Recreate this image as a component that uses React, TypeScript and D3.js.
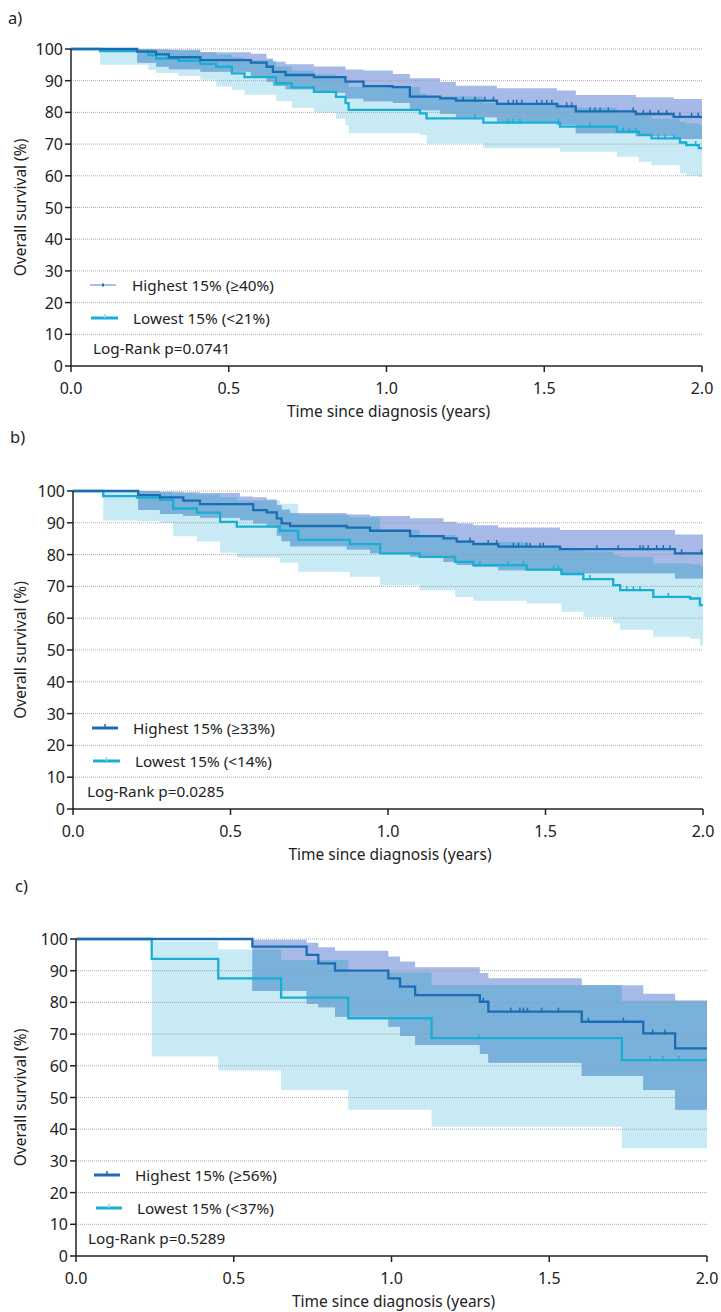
import React from 'react'
import * as d3 from 'd3'

// ---- panel a) ----
const aHighTime = [0, 0.21, 0.27, 0.31, 0.41, 0.57, 0.62, 0.64, 0.68, 0.77, 0.87, 0.927, 1.02, 1.074, 1.17, 1.22, 1.35, 1.54, 1.6, 1.79, 1.91]
const aHighSurv = [100, 99.2, 98.3, 97.4, 96.5, 95.7, 94.4, 92.8, 91.8, 91.1, 89.7, 88.3, 88.0, 85.0, 84.4, 83.7, 82.7, 81.9, 80.3, 79.5, 78.6]
const aHighUpper = [100, 100, 99.9, 99.8, 99.0, 98.5, 97.0, 96.0, 95.2, 94.5, 93.5, 93.2, 92.1, 90.8, 89.6, 88.4, 87.6, 86.9, 85.5, 84.8, 84.2]
const aHighLower = [100, 95.7, 94.4, 93.6, 92.8, 91.5, 89.7, 88.3, 87.3, 86.2, 84.4, 83.5, 83.0, 80.7, 79.5, 78.5, 76.8, 76.0, 73.4, 72.5, 71.6]
const aHighCensor = [1.243, 1.281, 1.312, 1.339, 1.386, 1.402, 1.413, 1.429, 1.476, 1.492, 1.508, 1.524, 1.571, 1.587, 1.645, 1.661, 1.677, 1.703, 1.782, 1.814, 1.835, 1.862, 1.888, 1.93, 1.967, 1.988]

const aLowTime = [0, 0.092, 0.245, 0.27, 0.34, 0.41, 0.46, 0.51, 0.55, 0.65, 0.7, 0.77, 0.84, 0.87, 0.88, 1.106, 1.127, 1.307, 1.55, 1.73, 1.8, 1.84, 1.93, 1.95, 1.99]
const aLowSurv = [100, 99.3, 98.1, 97.0, 96.3, 95.3, 94.4, 92.3, 91.1, 89.2, 87.9, 86.5, 84.9, 82.9, 80.8, 79.7, 78.1, 76.8, 75.5, 73.9, 72.9, 71.8, 70.5, 69.7, 68.7]
const aLowUpper = [100, 100, 100, 99.8, 99.5, 99.0, 98.3, 97.5, 96.5, 94.5, 93.2, 92.0, 91.0, 89.5, 88.0, 86.0, 85.0, 83.0, 81.5, 80.0, 79.0, 78.0, 77.0, 76.5, 76.0]
const aLowLower = [100, 95.0, 93.4, 92.4, 91.5, 90.3, 88.2, 87.1, 85.6, 83.5, 81.5, 80.0, 78.0, 76.0, 73.4, 72.9, 70.2, 68.7, 67.6, 66.0, 64.4, 63.3, 60.7, 60.0, 59.6]
const aLowCensor = [1.281, 1.386, 1.402, 1.423, 1.545, 1.645, 1.75, 1.77, 1.79, 1.862, 1.883, 1.91, 1.98]

// ---- panel b) ----
const bHighTime = [0, 0.207, 0.276, 0.35, 0.403, 0.53, 0.572, 0.615, 0.647, 0.662, 0.689, 0.869, 0.943, 1.07, 1.176, 1.218, 1.271, 1.35, 1.546, 1.911]
const bHighSurv = [100, 98.7, 98.0, 97.0, 95.9, 95.9, 94.0, 93.3, 91.4, 89.8, 89.0, 88.5, 87.5, 85.8, 85.1, 84.1, 83.3, 82.5, 81.7, 80.4]
const bHighUpper = [100, 100, 99.8, 99.6, 99.4, 98.3, 98.0, 97.3, 95.5, 94.1, 93.1, 92.6, 92.1, 91.4, 90.3, 89.8, 89.2, 88.5, 87.7, 86.3]
const bHighLower = [100, 94.0, 92.8, 92.2, 91.6, 90.8, 89.8, 88.6, 86.0, 84.2, 82.6, 81.6, 80.4, 79.3, 77.7, 76.7, 76.2, 75.1, 74.1, 72.5]
const bHighCensor = [1.26, 1.318, 1.345, 1.398, 1.414, 1.44, 1.451, 1.483, 1.493, 1.663, 1.731, 1.8, 1.81, 1.826, 1.853, 1.874, 1.895, 1.932, 1.995]

const bLowTime = [0, 0.096, 0.203, 0.276, 0.318, 0.393, 0.467, 0.52, 0.657, 0.715, 0.879, 0.975, 1.1, 1.213, 1.271, 1.44, 1.551, 1.62, 1.715, 1.737, 1.842, 1.959, 1.99]
const bLowSurv = [100, 98.4, 97.9, 97.2, 94.5, 93.2, 90.3, 88.8, 87.5, 84.6, 83.3, 80.4, 79.3, 77.7, 76.7, 75.3, 73.9, 72.3, 70.4, 68.8, 66.7, 66.2, 64.1]
const bLowUpper = [100, 100, 100, 99.8, 99.3, 99.0, 98.0, 97.0, 96.0, 92.5, 91.7, 87.7, 86.2, 84.6, 84.0, 82.5, 81.4, 81.0, 79.8, 79.3, 77.2, 77.0, 76.5]
const bLowLower = [100, 90.7, 90.5, 89.9, 85.8, 84.1, 80.6, 79.1, 77.4, 74.6, 73.0, 70.4, 68.8, 66.7, 65.5, 64.6, 62.0, 60.4, 58.3, 56.4, 54.2, 53.5, 51.5]
const bLowCensor = [1.292, 1.382, 1.43, 1.525, 1.541, 1.641, 1.758, 1.779, 1.8, 1.89]

// ---- panel c) ----
const cHighTime = [0, 0.559, 0.731, 0.768, 0.821, 0.99, 1.027, 1.075, 1.28, 1.307, 1.603, 1.798, 1.899]
const cHighSurv = [100, 97.6, 95.0, 92.3, 90.0, 87.6, 85.0, 82.3, 80.2, 77.1, 73.9, 70.2, 65.5]
const cHighUpper = [100, 99.8, 98.8, 97.4, 96.3, 94.5, 92.9, 91.1, 89.3, 87.6, 85.4, 82.7, 80.6]
const cHighLower = [100, 83.6, 79.5, 78.5, 75.5, 72.3, 69.4, 66.6, 63.7, 61.0, 56.8, 52.4, 46.1]
const cHighCensor = [1.291, 1.378, 1.407, 1.418, 1.431, 1.476, 1.529, 1.624, 1.735, 1.828, 1.867]

const cLowTime = [0, 0.24, 0.451, 0.65, 0.863, 1.127, 1.73]
const cLowSurv = [100, 93.7, 87.6, 81.5, 75.0, 68.7, 61.8]
const cLowUpper = [100, 99.2, 96.7, 93.4, 89.5, 85.5, 80.5]
const cLowLower = [100, 62.9, 58.5, 52.4, 46.1, 40.8, 34.0]
const cLowCensor = [1.276, 1.82, 1.86, 1.91]

const yTickValues = [0, 10, 20, 30, 40, 50, 60, 70, 80, 90, 100]
const xTickValues = [0, 0.5, 1, 1.5, 2]

const HI_LINE = '#1a6db3'
const LO_LINE = '#19aed3'
const HI_BAND = '#a6b9e7'
const LO_BAND = '#c8eaf5'
const BOTH_BAND = '#7ab1db'
const FONT = '"Noto Sans", "Open Sans", sans-serif'

const panels = [
  {
    key: 'a', label: 'a)', labelX: 8, labelY: 24,
    x0: 71, x1: 702, yTop: 49, yBot: 366,
    hiName: 'Highest 15% (≥40%)', loName: 'Lowest 15% (<21%)', pval: 'Log-Rank p=0.0741',
    leg: { l1: [90, 116], t1: 132, l2: [91, 118], t2: 133, p: 93, thin: true },
    hi: { time: aHighTime, surv: aHighSurv, upper: aHighUpper, lower: aHighLower, censor: aHighCensor },
    lo: { time: aLowTime, surv: aLowSurv, upper: aLowUpper, lower: aLowLower, censor: aLowCensor },
  },
  {
    key: 'b', label: 'b)', labelX: 10, labelY: 443,
    x0: 73, x1: 703, yTop: 491, yBot: 809,
    hiName: 'Highest 15% (≥33%)', loName: 'Lowest 15% (<14%)', pval: 'Log-Rank p=0.0285',
    leg: { l1: [92, 118], t1: 133, l2: [93, 120], t2: 135, p: 87, thin: false },
    hi: { time: bHighTime, surv: bHighSurv, upper: bHighUpper, lower: bHighLower, censor: bHighCensor },
    lo: { time: bLowTime, surv: bLowSurv, upper: bLowUpper, lower: bLowLower, censor: bLowCensor },
  },
  {
    key: 'c', label: 'c)', labelX: 15, labelY: 892,
    x0: 76, x1: 707, yTop: 939, yBot: 1256,
    hiName: 'Highest 15% (≥56%)', loName: 'Lowest 15% (<37%)', pval: 'Log-Rank p=0.5289',
    leg: { l1: [94, 120], t1: 135, l2: [96, 122], t2: 137, p: 88, thin: false },
    hi: { time: cHighTime, surv: cHighSurv, upper: cHighUpper, lower: cHighLower, censor: cHighCensor },
    lo: { time: cLowTime, surv: cLowSurv, upper: cLowUpper, lower: cLowLower, censor: cLowCensor },
  },
]

type Pt = { t: number; s: number; u: number; l: number }

function toPoints(g: any): Pt[] {
  const pts: Pt[] = g.time.map((t: number, i: number) => ({ t, s: g.surv[i], u: g.upper[i], l: g.lower[i] }))
  const last = pts[pts.length - 1]
  pts.push({ ...last, t: 2 })
  return pts
}

function Panel({ p }: { p: any }) {
  const x = d3.scaleLinear().domain([0, 2]).range([p.x0, p.x1])
  const y = d3.scaleLinear().domain([0, 100]).range([p.yBot, p.yTop])

  const line = d3.line<Pt>().x(d => x(d.t)).y(d => y(d.s)).curve(d3.curveStepAfter)
  const band = d3.area<Pt>().x(d => x(d.t)).y0(d => y(d.l)).y1(d => y(d.u)).curve(d3.curveStepAfter)

  const hiPts = toPoints(p.hi)
  const loPts = toPoints(p.lo)
  const clipId = `clip-lo-${p.key}`

  const censorMarks = (g: any, color: string) =>
    g.censor.map((c: number, i: number) => {
      const idx = d3.bisectRight(g.time, c) - 1
      const v = g.surv[Math.max(0, idx)]
      return <line key={i} x1={x(c)} x2={x(c)} y1={y(v) + 1} y2={y(v) - 4} stroke={color} strokeWidth={1.5} />
    })

  const midY = (p.yTop + p.yBot) / 2
  const midX = (p.x0 + p.x1) / 2
  const lg = p.leg

  return (
    <g>
      <text x={p.labelX} y={p.labelY} fontSize={16.5} fill="#222">{p.label}</text>

      <defs>
        <clipPath id={clipId}>
          <path d={band(loPts) || ''} />
        </clipPath>
      </defs>

      {/* confidence bands */}
      <path d={band(loPts) || ''} fill={LO_BAND} />
      <path d={band(hiPts) || ''} fill={HI_BAND} />
      <path d={band(hiPts) || ''} fill={BOTH_BAND} clipPath={`url(#${clipId})`} />

      {/* grid */}
      {yTickValues.filter(v => v > 0).map(v => (
        <line key={v} x1={p.x0} x2={p.x1} y1={y(v)} y2={y(v)} stroke="#9a9a9a" strokeWidth={1} strokeDasharray="1 1" opacity={0.8} />
      ))}

      {/* survival curves */}
      <path d={line(loPts) || ''} fill="none" stroke={LO_LINE} strokeWidth={2.3} />
      {censorMarks(p.lo, LO_LINE)}
      <path d={line(hiPts) || ''} fill="none" stroke={HI_LINE} strokeWidth={2.3} />
      {censorMarks(p.hi, HI_LINE)}

      {/* axes */}
      <line x1={p.x0} x2={p.x0} y1={p.yTop} y2={p.yBot} stroke="#222" strokeWidth={1.5} />
      <line x1={p.x0} x2={p.x1} y1={p.yBot} y2={p.yBot} stroke="#222" strokeWidth={1.5} />
      {yTickValues.map(v => (
        <g key={v}>
          <line x1={p.x0 - 6} x2={p.x0} y1={y(v)} y2={y(v)} stroke="#222" strokeWidth={1.5} />
          <text x={p.x0 - 8} y={y(v)} textAnchor="end" dominantBaseline="central" fontSize={16} fill="#222">{v}</text>
        </g>
      ))}
      {xTickValues.map(v => (
        <g key={v}>
          <line x1={x(v)} x2={x(v)} y1={p.yBot} y2={p.yBot + 6} stroke="#222" strokeWidth={1.5} />
          <text x={x(v)} y={p.yBot + 22} textAnchor="middle" dominantBaseline="central" fontSize={16} fill="#222">{d3.format('.1f')(v)}</text>
        </g>
      ))}
      <text x={midX + 2} y={p.yBot + 45} textAnchor="middle" dominantBaseline="central" fontSize={15.5} fill="#222">Time since diagnosis (years)</text>
      <text transform={`translate(20,${midY}) rotate(-90)`} textAnchor="middle" dominantBaseline="central" fontSize={15.5} fill="#222">Overall survival (%)</text>

      {/* legend */}
      {lg.thin ? (
        <g>
          <line x1={lg.l1[0]} x2={lg.l1[1]} y1={p.yBot - 81} y2={p.yBot - 81} stroke="#4a86cf" strokeWidth={1} />
          <rect x={(lg.l1[0] + lg.l1[1]) / 2 - 1} y={p.yBot - 82.5} width={2} height={3} fill={HI_LINE} />
        </g>
      ) : (
        <g>
          <line x1={lg.l1[0]} x2={lg.l1[1]} y1={p.yBot - 81} y2={p.yBot - 81} stroke={HI_LINE} strokeWidth={3} />
          <line x1={(lg.l1[0] + lg.l1[1]) / 2} x2={(lg.l1[0] + lg.l1[1]) / 2} y1={p.yBot - 81} y2={p.yBot - 85} stroke={HI_LINE} strokeWidth={1.5} />
        </g>
      )}
      <text x={lg.t1} y={p.yBot - 81} dominantBaseline="central" fontSize={15.3} fill="#222">{p.hiName}</text>
      <line x1={lg.l2[0]} x2={lg.l2[1]} y1={p.yBot - 48} y2={p.yBot - 48} stroke={LO_LINE} strokeWidth={3} />
      <line x1={(lg.l2[0] + lg.l2[1]) / 2} x2={(lg.l2[0] + lg.l2[1]) / 2} y1={p.yBot - 48} y2={p.yBot - 52} stroke="#8fd6ea" strokeWidth={1.5} />
      <text x={lg.t2} y={p.yBot - 48} dominantBaseline="central" fontSize={15.3} fill="#222">{p.loName}</text>
      <text x={lg.p} y={p.yBot - 18} dominantBaseline="central" fontSize={15.3} fill="#222">{p.pval}</text>
    </g>
  )
}

export default function App() {
  return (
    <svg width={721} height={1312} style={{ position: 'absolute', left: 0, top: 0, background: '#fff' }} fontFamily={FONT}>
      <rect width={721} height={1312} fill="#fff" />
      {panels.map(p => <Panel key={p.key} p={p} />)}
    </svg>
  )
}
